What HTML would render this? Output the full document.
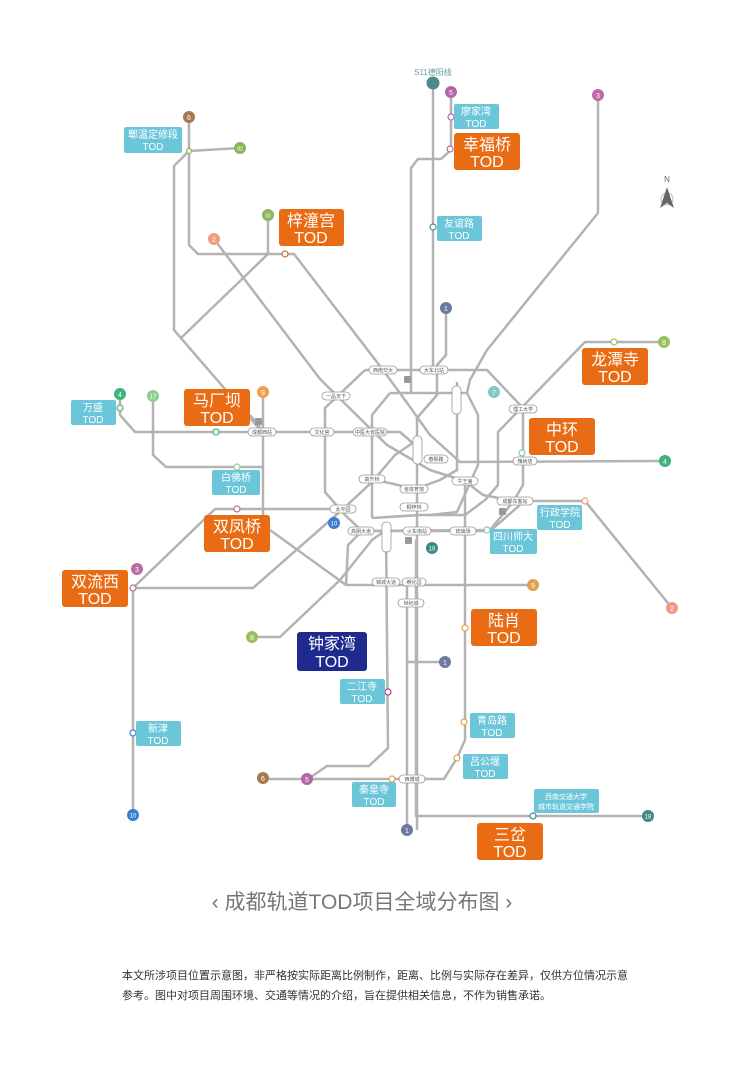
<!DOCTYPE html>
<html><head><meta charset="utf-8">
<style>
html,body{margin:0;padding:0;background:#fff;}
body{width:740px;height:1081px;overflow:hidden;position:relative;font-family:"Liberation Sans","Noto Sans CJK SC",sans-serif;}
svg{position:absolute;left:0;top:0;}
</style></head><body>
<svg width="740" height="1081" viewBox="0 0 740 1081" xmlns="http://www.w3.org/2000/svg" font-family="Liberation Sans, Noto Sans CJK SC, sans-serif">
<g fill="none" stroke="#b3b3b3" stroke-width="2.5" stroke-linejoin="round">
<polyline points="189,117 189,245 198,254 294,254 383,370 405,400 430,435 460,462 665,461"/>
<polyline points="189,151 240,148"/>
<polyline points="189,151 174,166 174,330 262,432"/>
<polyline points="268,215 268,254 181,338"/>
<polyline points="214,239 320,379 387,445 430,470 465,481 483,495 515,501 585,501 672,608"/>
<polyline points="433,83 433,370"/>
<polyline points="451,92 451,150 441,159 418,159 411,168 411,393"/>
<polyline points="446,308 446,355 437,365 437,395 417,418 417,830"/>
<polyline points="407,585 407,830"/>
<polyline points="407,662 445,662"/>
<polyline points="416,540 416,816 648,816"/>
<polyline points="598,95 598,213 487,350 470,380 467,393"/>
<polyline points="133,588 215,509 343,509 372,482 395,455 417,440"/>
<polyline points="120,394 120,415 135,432 400,432 415,445"/>
<polyline points="153,396 153,455 166,467 263,467"/>
<polyline points="263,392 263,515"/>
<polyline points="270,530 346,585 533,585"/>
<polyline points="250,415 262,430"/>
<polyline points="133,815 133,588 253,588 343,509"/>
<polyline points="664,342 585,342 498,432 498,485 485,500 465,515 420,515 372,518"/>
<polyline points="252,637 280,637 340,580 372,540 386,530"/>
<polyline points="365,370 487,370 523,408 523,485 513,502 490,530 362,531 348,545 346,585"/>
<polyline points="365,370 325,408 325,492 345,515 362,531"/>
<polyline points="390,393 467,393 478,415 478,465 457,512 430,515"/>
<polyline points="390,393 372,415 372,518"/>
<polyline points="457,382 457,470 440,480 415,489 372,479"/>
<polyline points="362,531 490,531 520,505"/>
<polyline points="386,530 388,748 369,766 327,766 308,779"/>
<polyline points="263,779 444,779 457,758 465,740 465,481"/>
</g>
<g font-size="5" fill="#555" text-anchor="middle">
<g stroke="#999" stroke-width="0.8" fill="#fff">
<rect x="369" y="366" width="28" height="8" rx="4"/><rect x="420" y="366" width="28" height="8" rx="4"/>
<rect x="322" y="392" width="28" height="8" rx="4"/><rect x="248" y="428" width="28" height="8" rx="4"/>
<rect x="310" y="428" width="24" height="8" rx="4"/><rect x="353" y="428" width="34" height="8" rx="4"/>
<rect x="452" y="386" width="9" height="28" rx="4"/><rect x="509" y="405" width="28" height="8" rx="4"/>
<rect x="413" y="436" width="9" height="28" rx="4"/><rect x="424" y="455" width="24" height="8" rx="4"/>
<rect x="513" y="457" width="24" height="8" rx="4"/><rect x="452" y="477" width="26" height="8" rx="4"/>
<rect x="359" y="475" width="26" height="8" rx="4"/><rect x="400" y="485" width="28" height="8" rx="4"/>
<rect x="330" y="505" width="26" height="8" rx="4"/><rect x="400" y="503" width="28" height="8" rx="4"/>
<rect x="497" y="497" width="36" height="8" rx="4"/><rect x="348" y="527" width="26" height="8" rx="4"/>
<rect x="382" y="522" width="9" height="30" rx="4"/><rect x="403" y="527" width="28" height="8" rx="4"/>
<rect x="450" y="527" width="26" height="8" rx="4"/><rect x="372" y="578" width="28" height="8" rx="4"/>
<rect x="402" y="578" width="24" height="8" rx="4"/><rect x="398" y="599" width="26" height="8" rx="4"/>
<rect x="399" y="775" width="26" height="8" rx="4"/>
</g>
<text x="383" y="372">西南交大</text><text x="434" y="372">大车北站</text><text x="336" y="398">一品天下</text>
<text x="262" y="434">成都西站</text><text x="322" y="434">文化宫</text><text x="370" y="434">中医大省医院</text>
<text x="523" y="411">理工大学</text><text x="436" y="461">春熙路</text><text x="525" y="463">槐树店</text>
<text x="465" y="483">牛王庙</text><text x="372" y="481">高升桥</text><text x="414" y="491">省体育馆</text>
<text x="343" y="511">太平园</text><text x="414" y="509">桐梓林</text><text x="515" y="503">成都东客站</text>
<text x="361" y="533">高朋大道</text><text x="417" y="533">火车南站</text><text x="463" y="533">琉璃场</text>
<text x="386" y="584">锦城大道</text><text x="414" y="584">孵化园</text><text x="411" y="605">世纪城</text><text x="412" y="781">西博城</text>
</g>
<g fill="#999"><rect x="404" y="376" width="7" height="7" rx="1"/><rect x="255" y="418" width="7" height="7" rx="1"/><rect x="499" y="508" width="7" height="7" rx="1"/><rect x="405" y="537" width="7" height="7" rx="1"/></g>
<g font-size="7" fill="#fff" text-anchor="middle">
<circle cx="433" cy="83" r="6.5" fill="#4b8c8a"/>
<circle cx="451" cy="92" r="6" fill="#b565a7"/><text x="451" y="95">5</text>
<circle cx="598" cy="95" r="6" fill="#c06aa5"/><text x="598" y="98">3</text>
<circle cx="189" cy="117" r="6" fill="#a57a4e"/><text x="189" y="120">6</text>
<circle cx="240" cy="148" r="6" fill="#8db35b"/><text x="240" y="150.5" font-size="5">82</text>
<circle cx="268" cy="215" r="6" fill="#8db35b"/><text x="268" y="217.5" font-size="5">82</text>
<circle cx="214" cy="239" r="6" fill="#f09c80"/><text x="214" y="242">2</text>
<circle cx="446" cy="308" r="6" fill="#6b7aa1"/><text x="446" y="311">1</text>
<circle cx="664" cy="342" r="6" fill="#9bbf5d"/><text x="664" y="345">8</text>
<circle cx="494" cy="392" r="6" fill="#7ecac8"/><text x="494" y="395">7</text>
<circle cx="120" cy="394" r="6" fill="#3fb37a"/><text x="120" y="397">4</text>
<circle cx="153" cy="396" r="6" fill="#8fce8b"/><text x="153" y="398.5" font-size="6">17</text>
<circle cx="263" cy="392" r="6" fill="#f0a04b"/><text x="263" y="395">9</text>
<circle cx="665" cy="461" r="6" fill="#3fb37a"/><text x="665" y="464">4</text>
<circle cx="334" cy="523" r="6" fill="#3a7fcf"/><text x="334" y="525.5" font-size="6">10</text>
<circle cx="432" cy="548" r="6" fill="#3f8a80"/><text x="432" y="550.5" font-size="6">18</text>
<circle cx="137" cy="569" r="6" fill="#c06aa5"/><text x="137" y="572">3</text>
<circle cx="533" cy="585" r="6" fill="#e0a04b"/><text x="533" y="588">9</text>
<circle cx="672" cy="608" r="6" fill="#f09c80"/><text x="672" y="611">2</text>
<circle cx="252" cy="637" r="6" fill="#9bbf5d"/><text x="252" y="640">8</text>
<circle cx="445" cy="662" r="6" fill="#6b7aa1"/><text x="445" y="665">1</text>
<circle cx="263" cy="778" r="6" fill="#a57a4e"/><text x="263" y="781">6</text>
<circle cx="307" cy="779" r="6" fill="#b565a7"/><text x="307" y="782">5</text>
<circle cx="133" cy="815" r="6" fill="#3a7fcf"/><text x="133" y="817.5" font-size="6">10</text>
<circle cx="648" cy="816" r="6" fill="#3f8a80"/><text x="648" y="818.5" font-size="6">18</text>
<circle cx="407" cy="830" r="6" fill="#6b7aa1"/><text x="407" y="833">1</text>
</g>
<g fill="#fff" stroke-width="1.2">
<circle cx="451" cy="117" r="3" stroke="#b565a7"/><circle cx="450" cy="149" r="3" stroke="#b565a7"/>
<circle cx="189" cy="151" r="2.5" stroke="#8db35b"/><circle cx="285" cy="254" r="3" stroke="#c7702a"/>
<circle cx="433" cy="227" r="3" stroke="#4b8c8a"/><circle cx="614" cy="342" r="3" stroke="#9bbf5d"/>
<circle cx="120" cy="408" r="3" stroke="#3fb37a"/><circle cx="216" cy="432" r="3" stroke="#3fb37a"/>
<circle cx="522" cy="453" r="3" stroke="#7ecac8"/><circle cx="237" cy="467" r="3" stroke="#8fce8b"/>
<circle cx="237" cy="509" r="3" stroke="#c06aa5"/><circle cx="585" cy="501" r="3" stroke="#f09c80"/>
<circle cx="487" cy="530" r="3" stroke="#7ecac8"/><circle cx="133" cy="588" r="3" stroke="#c06aa5"/>
<circle cx="465" cy="628" r="3" stroke="#e0a04b"/><circle cx="388" cy="692" r="3" stroke="#c0308a"/>
<circle cx="464" cy="722" r="3" stroke="#e0a04b"/><circle cx="133" cy="733" r="3" stroke="#3a7fcf"/>
<circle cx="457" cy="758" r="3" stroke="#e0a04b"/><circle cx="392" cy="779" r="3" stroke="#e0a04b"/>
<circle cx="533" cy="816" r="3" stroke="#3f8a80"/>
</g>
<text x="433" y="75" font-size="8" fill="#6a9b9b" text-anchor="middle">S11德阳线</text>
<text x="667" y="182" font-size="8" fill="#666" text-anchor="middle">N</text>
<circle cx="667" cy="199" r="6" fill="none" stroke="#bbb" stroke-width="1"/>
<polygon points="667,187 660,208 667,203 674,208" fill="#666"/>
<g fill="#e96b14">
<rect x="454" y="133" width="66" height="37" rx="3"/><rect x="279" y="209" width="65" height="37" rx="3"/>
<rect x="184" y="389" width="66" height="37" rx="3"/><rect x="582" y="348" width="66" height="37" rx="3"/>
<rect x="529" y="418" width="66" height="37" rx="3"/><rect x="204" y="515" width="66" height="37" rx="3"/>
<rect x="62" y="570" width="66" height="37" rx="3"/><rect x="471" y="609" width="66" height="37" rx="3"/>
<rect x="477" y="823" width="66" height="37" rx="3"/>
</g>
<rect x="297" y="632" width="70" height="39" rx="3" fill="#1f2a8f"/>
<g fill="#fff" font-size="16" text-anchor="middle">
<text x="487" y="150">幸福桥</text><text x="487" y="167">TOD</text>
<text x="311" y="226">梓潼宫</text><text x="311" y="243">TOD</text>
<text x="217" y="406">马厂坝</text><text x="217" y="423">TOD</text>
<text x="615" y="365">龙潭寺</text><text x="615" y="382">TOD</text>
<text x="562" y="435">中环</text><text x="562" y="452">TOD</text>
<text x="237" y="532">双凤桥</text><text x="237" y="549">TOD</text>
<text x="95" y="587">双流西</text><text x="95" y="604">TOD</text>
<text x="504" y="626">陆肖</text><text x="504" y="643">TOD</text>
<text x="510" y="840">三岔</text><text x="510" y="857">TOD</text>
<text x="332" y="649">钟家湾</text><text x="332" y="667">TOD</text>
</g>
<g fill="#6cc6d9">
<rect x="124" y="127" width="58" height="26" rx="2"/><rect x="454" y="104" width="45" height="25" rx="2"/>
<rect x="437" y="216" width="45" height="25" rx="2"/><rect x="71" y="400" width="45" height="25" rx="2"/>
<rect x="212" y="470" width="48" height="25" rx="2"/><rect x="537" y="505" width="45" height="25" rx="2"/>
<rect x="490" y="529" width="47" height="25" rx="2"/><rect x="340" y="679" width="45" height="25" rx="2"/>
<rect x="136" y="721" width="45" height="25" rx="2"/><rect x="470" y="713" width="45" height="25" rx="2"/>
<rect x="463" y="754" width="45" height="25" rx="2"/><rect x="352" y="782" width="44" height="25" rx="2"/>
<rect x="534" y="789" width="65" height="24" rx="2"/>
</g>
<g fill="#fff" font-size="10" text-anchor="middle">
<text x="153" y="138">郫温定修段</text><text x="153" y="150">TOD</text>
<text x="476" y="115">廖家湾</text><text x="476" y="127">TOD</text>
<text x="459" y="227">友谊路</text><text x="459" y="239">TOD</text>
<text x="93" y="411">万盛</text><text x="93" y="423">TOD</text>
<text x="236" y="481">白佛桥</text><text x="236" y="493">TOD</text>
<text x="560" y="516">行政学院</text><text x="560" y="528">TOD</text>
<text x="513" y="540">四川师大</text><text x="513" y="552">TOD</text>
<text x="362" y="690">二江寺</text><text x="362" y="702">TOD</text>
<text x="158" y="732">新津</text><text x="158" y="744">TOD</text>
<text x="492" y="724">青岛路</text><text x="492" y="736">TOD</text>
<text x="485" y="765">吕公堰</text><text x="485" y="777">TOD</text>
<text x="374" y="793">秦皇寺</text><text x="374" y="805">TOD</text>
<text x="566" y="799" font-size="7">西南交通大学</text><text x="566" y="809" font-size="7">城市轨道交通学院</text>
</g>
<text x="362" y="909" font-size="21" fill="#777" text-anchor="middle">‹ 成都轨道TOD项目全域分布图 ›</text>
<text x="122" y="979" font-size="11" fill="#333">本文所涉项目位置示意图，非严格按实际距离比例制作，距离、比例与实际存在差异，仅供方位情况示意</text>
<text x="122" y="999" font-size="11" fill="#333">参考。图中对项目周围环境、交通等情况的介绍，旨在提供相关信息，不作为销售承诺。</text>
</svg>
</body></html>
